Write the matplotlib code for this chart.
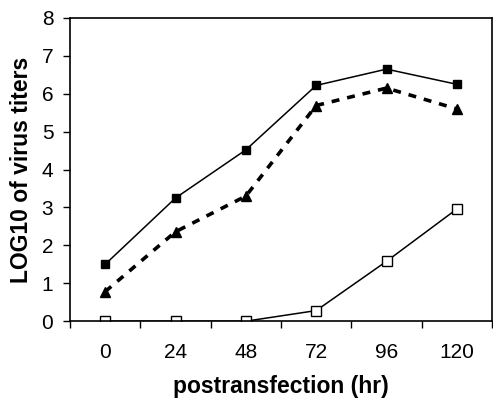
import matplotlib
matplotlib.use("Agg")
import matplotlib.pyplot as plt
import numpy as np

plt.rcParams['font.family'] = ['Liberation Sans', 'DejaVu Sans']

# hours post transfection (category axis)
hours = ["0", "24", "48", "72", "96", "120"]
filled_sq = [1.5, 3.25, 4.52, 6.22, 6.65, 6.25]
filled_tri = [0.78, 2.36, 3.3, 5.69, 6.15, 5.6]
open_sq = [0.0, 0.0, 0.0, 0.28, 1.58, 2.96]

fig = plt.figure(figsize=(4.93, 3.99), dpi=100)
ax = fig.add_axes([0.142, 0.195, 0.856, 0.76])

xs = np.arange(len(hours))
ax.plot(xs, filled_sq, color='black', lw=1.1, marker='s', ms=6,
        mfc='black', mec='black')
ax.plot(xs, filled_tri, color='black', lw=2.6, ls=(0, (2.2, 2.2)), marker='^', ms=7,
        mfc='black', mec='black')
ax.plot(xs, open_sq, color='black', lw=1.1, marker='s', ms=7,
        mfc='white', mec='black', mew=1)

ax.set_xlim(-0.5, len(hours) - 0.5)
ax.set_ylim(0, 8)
ax.set_yticks(range(0, 9))
ax.set_xticks(xs)
ax.set_xticklabels(hours)
# tick marks sit between categories
ax.set_xticks(np.arange(-0.5, len(hours) + 0.5, 1), minor=True)
ax.tick_params(axis='x', which='major', length=0, labelsize=15, pad=16)
ax.tick_params(axis='x', which='minor', length=5, width=1, direction='out')
ax.tick_params(axis='y', length=5, width=1, direction='out', labelsize=15, pad=7)

for s in ax.spines.values():
    s.set_linewidth(1.2)

ax.set_xlabel("postransfection (hr)", fontsize=16.5, fontweight='bold', labelpad=9)
ax.set_ylabel("LOG10 of virus titers", fontsize=16.5, fontweight='bold', labelpad=6)

fig.savefig("out.png", dpi=100)
